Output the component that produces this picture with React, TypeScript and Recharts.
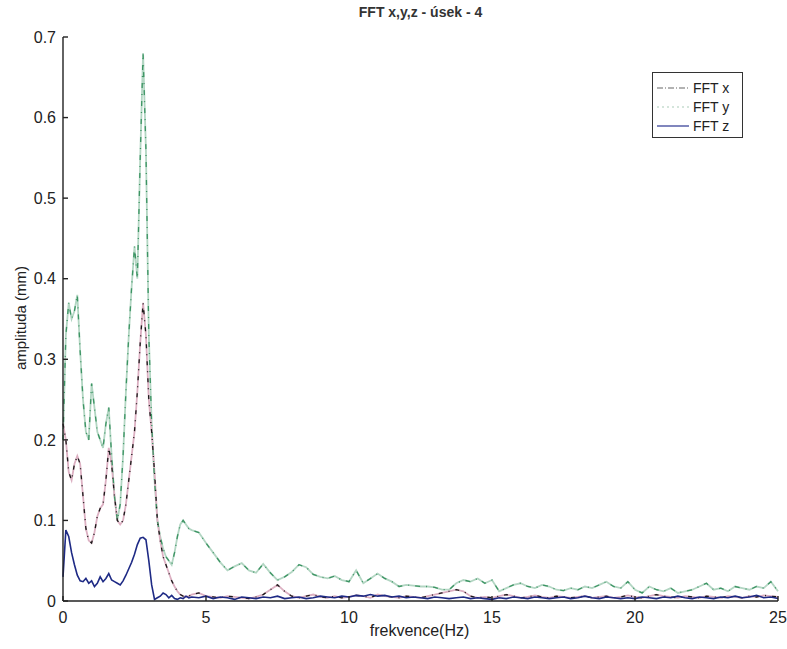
import React from 'react';
import { LineChart, Line, XAxis, YAxis } from 'recharts';

const freq = [
  0, 0.1, 0.2, 0.3, 0.4, 0.5, 0.6, 0.7, 0.8, 0.9,
  1.0, 1.1, 1.2, 1.3, 1.4, 1.5, 1.6, 1.7, 1.8, 1.9,
  2.0, 2.1, 2.2, 2.3, 2.4, 2.5, 2.6, 2.7, 2.8, 2.9,
  3.0, 3.1, 3.2, 3.3, 3.4, 3.5, 3.6, 3.7, 3.8, 3.9,
  4.0, 4.1, 4.2, 4.3, 4.4, 4.5,
  4.75, 5, 5.25, 5.5, 5.75, 6, 6.25, 6.5, 6.75, 7,
  7.25, 7.5, 7.75, 8, 8.25, 8.5, 8.75, 9, 9.25, 9.5,
  9.75, 10, 10.25, 10.5, 10.75, 11, 11.25, 11.5, 11.75, 12,
  12.25, 12.5, 12.75, 13, 13.25, 13.5, 13.75, 14, 14.25, 14.5,
  14.75, 15, 15.25, 15.5, 15.75, 16, 16.25, 16.5, 16.75, 17,
  17.25, 17.5, 17.75, 18, 18.25, 18.5, 18.75, 19, 19.25, 19.5,
  19.75, 20, 20.25, 20.5, 20.75, 21, 21.25, 21.5, 21.75, 22,
  22.25, 22.5, 22.75, 23, 23.25, 23.5, 23.75, 24, 24.25, 24.5,
  24.75, 25,
];

const fftX = [
  0.22, 0.20, 0.16, 0.15, 0.17, 0.18, 0.17, 0.13, 0.09, 0.075,
  0.072, 0.085, 0.105, 0.115, 0.12, 0.15, 0.19, 0.17, 0.13, 0.10,
  0.095, 0.10, 0.12, 0.15, 0.18, 0.21, 0.26, 0.32, 0.37, 0.33,
  0.25, 0.21, 0.16, 0.10, 0.075, 0.055, 0.045, 0.035, 0.025, 0.018,
  0.012, 0.008, 0.006, 0.005, 0.006, 0.008,
  0.010, 0.006, 0.005, 0.004, 0.006, 0.005, 0.004, 0.003, 0.005, 0.008,
  0.014, 0.020, 0.012, 0.006, 0.004, 0.006, 0.008, 0.005, 0.004, 0.006,
  0.004, 0.005, 0.007, 0.006, 0.004, 0.008, 0.006, 0.005, 0.004, 0.006,
  0.005, 0.004, 0.006, 0.008, 0.010, 0.012, 0.014, 0.012, 0.006, 0.004,
  0.005, 0.004, 0.006, 0.008, 0.006, 0.004, 0.005, 0.007, 0.005, 0.004,
  0.006, 0.005, 0.004, 0.005, 0.006, 0.004, 0.005, 0.006, 0.004, 0.005,
  0.007, 0.005, 0.004, 0.006, 0.008, 0.006, 0.005, 0.004, 0.006, 0.005,
  0.004, 0.006, 0.005, 0.004, 0.006, 0.005, 0.004, 0.006, 0.005, 0.007,
  0.006, 0.005,
];

const fftY = [
  0.20, 0.33, 0.37, 0.35, 0.36, 0.38, 0.31, 0.25, 0.21, 0.20,
  0.27, 0.24, 0.21, 0.20, 0.19, 0.22, 0.24, 0.18, 0.13, 0.10,
  0.12, 0.18, 0.26, 0.33, 0.39, 0.44, 0.40, 0.55, 0.68, 0.56,
  0.33, 0.22, 0.15, 0.10, 0.08, 0.065, 0.055, 0.05, 0.045, 0.06,
  0.08, 0.095, 0.10, 0.095, 0.09, 0.088,
  0.085, 0.072, 0.060, 0.048, 0.038, 0.043, 0.047, 0.038, 0.035, 0.046,
  0.035, 0.026, 0.030, 0.036, 0.045, 0.042, 0.033, 0.030, 0.028, 0.031,
  0.026, 0.024, 0.038, 0.022, 0.028, 0.034, 0.028, 0.024, 0.018, 0.020,
  0.019, 0.018, 0.018, 0.017, 0.014, 0.014, 0.022, 0.026, 0.024, 0.028,
  0.022, 0.026, 0.012, 0.016, 0.020, 0.022, 0.018, 0.016, 0.020, 0.018,
  0.014, 0.013, 0.016, 0.014, 0.018, 0.016, 0.020, 0.024, 0.018, 0.016,
  0.024, 0.014, 0.010, 0.018, 0.014, 0.012, 0.016, 0.010, 0.012, 0.014,
  0.018, 0.022, 0.014, 0.016, 0.012, 0.018, 0.016, 0.014, 0.018, 0.016,
  0.024, 0.012,
];

const fftZ = [
  0.03, 0.088, 0.08, 0.06, 0.045, 0.032, 0.025, 0.024, 0.028, 0.022,
  0.025, 0.018, 0.022, 0.03, 0.024, 0.028, 0.034, 0.026, 0.024, 0.022,
  0.02, 0.025, 0.032, 0.04, 0.048, 0.058, 0.07, 0.078, 0.079, 0.076,
  0.05, 0.02, 0.002, 0.004, 0.006, 0.01, 0.008, 0.004, 0.007, 0.003,
  0.002, 0.004, 0.003, 0.006, 0.004, 0.005,
  0.004, 0.006, 0.003, 0.005, 0.004, 0.002, 0.005, 0.004, 0.003, 0.005,
  0.004, 0.006, 0.003, 0.004, 0.005, 0.003, 0.004, 0.006, 0.005, 0.004,
  0.006, 0.005, 0.007, 0.006, 0.008, 0.006, 0.007, 0.005, 0.006, 0.004,
  0.005, 0.004, 0.003, 0.005, 0.004, 0.003, 0.004, 0.005, 0.003, 0.004,
  0.003, 0.002, 0.004, 0.003, 0.005, 0.004, 0.003, 0.005, 0.004, 0.003,
  0.004, 0.005, 0.003, 0.004, 0.006, 0.004, 0.003, 0.005, 0.004, 0.003,
  0.004, 0.003, 0.005, 0.004, 0.003, 0.005, 0.004, 0.006, 0.004, 0.003,
  0.005, 0.004, 0.003, 0.005, 0.004, 0.006, 0.004, 0.005, 0.007, 0.004,
  0.005, 0.003,
];

const xTicks = [0, 5, 10, 15, 20, 25];
const yTicks = [0, 0.1, 0.2, 0.3, 0.4, 0.5, 0.6, 0.7];

const data = freq.map((f, i) => ({ f, x: fftX[i], y: fftY[i], z: fftZ[i] }));

const font = "'Liberation Sans', Arial, sans-serif";

const legendItems = [
  { label: 'FFT x', color: '#666', dash: '6 2 1 2' },
  { label: 'FFT y', color: '#a9cbb8', dash: '2 3' },
  { label: 'FFT z', color: '#2a3590', dash: undefined },
];

function LegendBox() {
  return (
    <div
      style={{
        position: 'absolute',
        left: 652,
        top: 72,
        width: 89,
        height: 64,
        border: '1px solid #333',
        background: '#fff',
        fontFamily: font,
        fontSize: 14,
        color: '#222',
      }}
    >
      {legendItems.map((it, i) => (
        <div key={it.label} style={{ position: 'absolute', left: 0, top: 6 + i * 19, height: 18, width: 89 }}>
          <svg width={34} height={18} style={{ position: 'absolute', left: 4, top: 0 }}>
            <line x1={0} y1={9} x2={32} y2={9} stroke={it.color} strokeWidth={1.2} strokeDasharray={it.dash} />
          </svg>
          <span style={{ position: 'absolute', left: 40, top: 0, lineHeight: '18px' }}>{it.label}</span>
        </div>
      ))}
    </div>
  );
}

export default function App() {
  return (
    <div style={{ position: 'absolute', left: 0, top: 0, width: 787, height: 649, background: '#fff' }}>
      <div
        style={{
          position: 'absolute',
          left: 0,
          width: 787,
          top: 4,
          textAlign: 'center',
          paddingLeft: 54,
          boxSizing: 'border-box',
          fontFamily: font,
          fontSize: 14,
          fontWeight: 'bold',
          color: '#333',
        }}
      >
        FFT x,y,z - úsek - 4
      </div>
      <LineChart width={787} height={649} data={data} margin={{ top: 37, right: 9, bottom: 18, left: 0 }}>
        <XAxis
          dataKey="f"
          type="number"
          domain={[0, 25]}
          ticks={xTicks}
          height={30}
          stroke="#222"
          strokeWidth={1.4}
          tickSize={-5}
          tickMargin={16}
          tick={{ fill: '#222', fontSize: 16, fontFamily: font }}
        />
        <XAxis
          xAxisId="top"
          dataKey="f"
          type="number"
          orientation="top"
          domain={[0, 25]}
          ticks={xTicks}
          height={0}
          stroke="#222"
          strokeWidth={1.4}
          tickSize={-5}
          tickFormatter={() => ''}
        />
        <YAxis
          type="number"
          domain={[0, 0.7]}
          ticks={yTicks}
          width={63}
          stroke="#222"
          strokeWidth={1.4}
          tickSize={-5}
          tickMargin={12}
          tick={{ fill: '#222', fontSize: 16, fontFamily: font }}
        />
        <YAxis
          yAxisId="right"
          orientation="right"
          type="number"
          domain={[0, 0.7]}
          ticks={yTicks}
          width={0}
          stroke="#222"
          strokeWidth={1.4}
          tickSize={-5}
          tickFormatter={() => ''}
        />
        {/* light underlays, as on the scan */}
        <Line dataKey="y" type="linear" stroke="#b3d6c3" strokeWidth={1.8} dot={false} isAnimationActive={false} />
        <Line dataKey="x" type="linear" stroke="#dcb0c2" strokeWidth={1.8} dot={false} isAnimationActive={false} />
        {/* dark dash-dot overlays */}
        <Line dataKey="y" type="linear" stroke="#3c9463" strokeWidth={1.3} strokeDasharray="5 6 1 6" dot={false} isAnimationActive={false} />
        <Line dataKey="x" type="linear" stroke="#1a1a1a" strokeWidth={1.3} strokeDasharray="4 6 1 6" dot={false} isAnimationActive={false} />
        <Line dataKey="z" type="linear" stroke="#1e2a85" strokeWidth={1.6} dot={false} isAnimationActive={false} />
      </LineChart>
      <div
        style={{
          position: 'absolute',
          left: 0,
          width: 787,
          top: 622,
          textAlign: 'center',
          paddingLeft: 52,
          boxSizing: 'border-box',
          fontFamily: font,
          fontSize: 16,
          color: '#222',
        }}
      >
        frekvence(Hz)
      </div>
      <div
        style={{
          position: 'absolute',
          left: 20,
          top: 318,
          transform: 'translate(-50%, -50%) rotate(-90deg)',
          whiteSpace: 'nowrap',
          fontFamily: font,
          fontSize: 15,
          color: '#222',
        }}
      >
        amplituda (mm)
      </div>
      <LegendBox />
    </div>
  );
}
